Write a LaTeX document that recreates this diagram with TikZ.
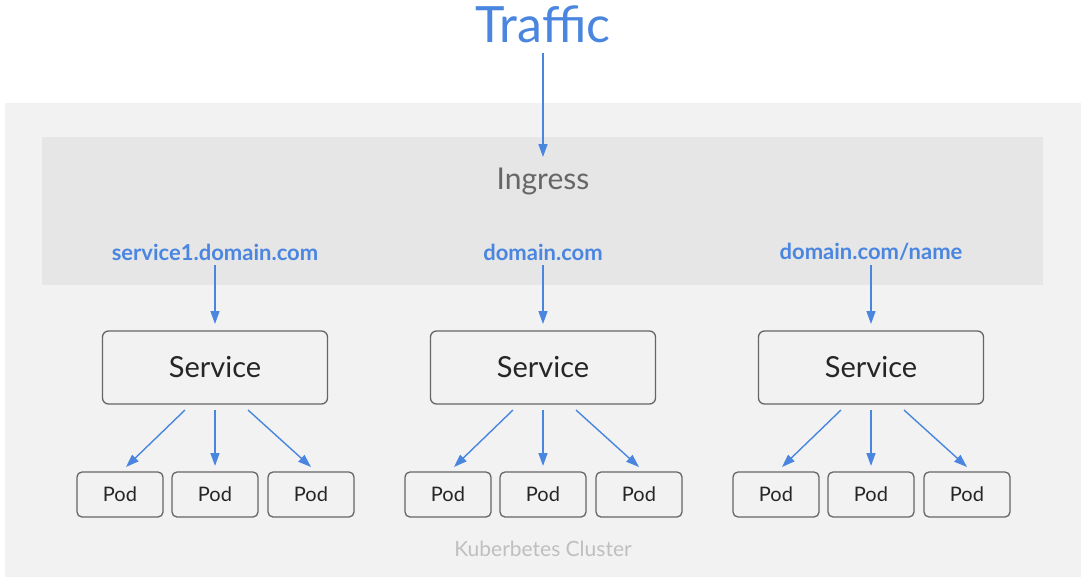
\documentclass[tikz,border=0pt]{standalone}
\usepackage{fontspec}
\setmainfont{Lato}
\usetikzlibrary{arrows.meta}
\definecolor{tblue}{HTML}{4A86E0}
\definecolor{outerbg}{HTML}{F2F2F2}
\definecolor{innerbg}{HTML}{E6E6E6}
\definecolor{boxline}{HTML}{666666}
\definecolor{txtgray}{HTML}{262626}
\tikzset{
  x=1pt, y=-1pt,
  flow/.style={draw=tblue, line width=1.4pt, -{Triangle[length=13pt,width=9pt]}},
  svcbox/.style={draw=boxline, line width=1.3pt, rounded corners=6pt, fill=outerbg, minimum width=225pt, minimum height=73pt, font=\fontsize{29}{32}\selectfont, text=txtgray, inner sep=0pt},
  podbox/.style={draw=boxline, line width=1.3pt, rounded corners=5pt, fill=outerbg, minimum width=86pt, minimum height=45pt, font=\fontsize{20}{24}\selectfont, text=txtgray, inner sep=0pt},
  route/.style={text=tblue, font=\fontsize{22}{26}\selectfont\bfseries, inner sep=0pt},
}
\begin{document}
\begin{tikzpicture}
\useasboundingbox (0,0) rectangle (1085,581);
\fill[white] (0,0) rectangle (1085,581);
\fill[outerbg] (5,103) rectangle (1081,577);
\fill[innerbg] (42,137) rectangle (1043,285);

\node[text=tblue, font=\fontsize{50}{54}\selectfont, inner sep=0pt] (traffic) at (543,24) {Traffic};
\node[text=boxline, font=\fontsize{30}{34}\selectfont, inner sep=0pt] (ingress) at (543,181) {Ingress};
\node[text=black!25, font=\fontsize{21}{25}\selectfont, inner sep=0pt] (cluster) at (543,549) {Kuberbetes Cluster};

\coordinate (tin) at (543,53);
\coordinate (tout) at (543,157);
\draw[flow] (tin) -- (tout);

\foreach \i/\cx/\lab in {1/215/{service1.domain.com}, 2/543/{domain.com}, 3/871/{domain.com/name}}{
  \node[route] (r\i) at (\cx,252) {\lab};
  \node[svcbox] (s\i) at (\cx,367.5) {Service};
  \node[podbox] (pa\i) at (\cx-95,494.5) {Pod};
  \node[podbox] (pb\i) at (\cx,494.5) {Pod};
  \node[podbox] (pc\i) at (\cx+96,494.5) {Pod};
  \coordinate (ra\i) at (\cx,265);
  \coordinate (rb\i) at (\cx,324);
  \draw[flow] (ra\i) -- (rb\i);
  \coordinate (sa\i) at (\cx-30,410);
  \coordinate (sb\i) at (\cx,410);
  \coordinate (sc\i) at (\cx+33,410);
  \coordinate (ea\i) at (\cx-89,467);
  \coordinate (eb\i) at (\cx,466);
  \coordinate (ec\i) at (\cx+96,467);
  \draw[flow] (sa\i) -- (ea\i);
  \draw[flow] (sb\i) -- (eb\i);
  \draw[flow] (sc\i) -- (ec\i);
}
\end{tikzpicture}
\end{document}
